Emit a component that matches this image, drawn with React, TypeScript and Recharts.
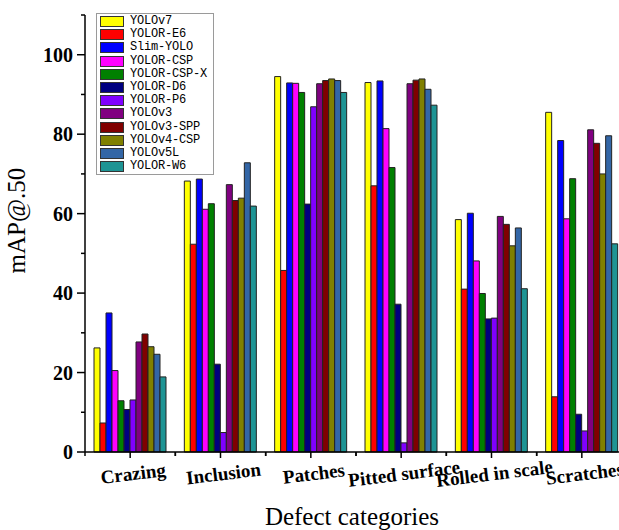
import React from 'react';
import { BarChart, Bar, XAxis, YAxis, Legend } from 'recharts';

const categories = ['Crazing', 'Inclusion', 'Patches', 'Pitted surface', 'Rolled in scale', 'Scratches'];

const modelNames = [
  'YOLOv7', 'YOLOR-E6', 'Slim-YOLO', 'YOLOR-CSP', 'YOLOR-CSP-X', 'YOLOR-D6',
  'YOLOR-P6', 'YOLOv3', 'YOLOv3-SPP', 'YOLOv4-CSP', 'YOLOv5L', 'YOLOR-W6',
];

const modelColors = [
  '#FFFF00', '#FF0000', '#0000FF', '#FF00FF', '#008000', '#000080',
  '#8000FF', '#800080', '#800000', '#808000', '#3366A6', '#1E9494',
];

// mAP@.50 per model, in category order
const yolov7 = [26.2, 68.2, 94.5, 93.0, 58.5, 85.5];
const yolorE6 = [7.3, 52.3, 45.7, 67.0, 41.0, 13.9];
const slimYolo = [35.0, 68.7, 92.9, 93.4, 60.1, 78.4];
const yolorCsp = [20.5, 61.1, 92.8, 81.4, 48.1, 58.7];
const yolorCspX = [12.9, 62.5, 90.5, 71.6, 39.9, 68.8];
const yolorD6 = [10.7, 22.1, 62.4, 37.2, 33.5, 9.5];
const yolorP6 = [13.1, 4.9, 86.9, 2.3, 33.7, 5.3];
const yolov3 = [27.7, 67.3, 92.7, 92.7, 59.3, 81.1];
const yolov3Spp = [29.7, 63.3, 93.5, 93.6, 57.3, 77.7];
const yolov4Csp = [26.5, 63.9, 93.9, 93.9, 51.9, 70.0];
const yolov5L = [24.6, 72.8, 93.5, 91.3, 56.4, 79.6];
const yolorW6 = [18.9, 61.9, 90.5, 87.3, 41.1, 52.4];

const seriesValues = [
  yolov7, yolorE6, slimYolo, yolorCsp, yolorCspX, yolorD6,
  yolorP6, yolov3, yolov3Spp, yolov4Csp, yolov5L, yolorW6,
];

const yTicks = [0, 10, 20, 30, 40, 50, 60, 70, 80, 90, 100, 110];

const chartData = categories.map((name, i) => {
  const row: Record<string, string | number> = { name };
  modelNames.forEach((m, j) => {
    row[m] = seriesValues[j][i];
  });
  return row;
});

const serif = '"Liberation Serif", "Times New Roman", serif';

const YTick = (props: any) => {
  const { x, y, payload } = props;
  const v = payload.value;
  const major = v % 20 === 0;
  return (
    <g>
      <line x1={x - (major ? 8 : 4)} x2={x} y1={y} y2={y} stroke="#000" strokeWidth={1.5} />
      {major && v <= 100 && (
        <text x={x - 12} y={y} dy={7} textAnchor="end" fontFamily={serif} fontWeight="bold" fontSize={20} fill="#000">
          {v}
        </text>
      )}
    </g>
  );
};

const XTick = (props: any) => {
  const { x, y, payload } = props;
  const half = payload.offset || 45;
  return (
    <g>
      <line x1={x} x2={x} y1={y} y2={y + 6} stroke="#000" strokeWidth={1.5} />
      <line x1={x - half} x2={x - half} y1={y} y2={y + 4} stroke="#000" strokeWidth={1.5} />
      <line x1={x + half} x2={x + half} y1={y} y2={y + 4} stroke="#000" strokeWidth={1.5} />
      <text
        x={x + 3}
        y={y + 28}
        textAnchor="middle"
        fontFamily={serif}
        fontWeight="bold"
        fontSize={19}
        fill="#000"
        transform={`rotate(-7, ${x + 3}, ${y + 22})`}
      >
        {payload.value}
      </text>
    </g>
  );
};

const LegendBox = () => (
  <div style={{ border: '1px solid #9a9a9a', background: '#fff', padding: '1px 0 1px 3px', width: 113 }}>
    {modelNames.map((m, i) => (
      <div key={m} style={{ display: 'flex', alignItems: 'center', height: 13.2, whiteSpace: 'nowrap' }}>
        <span style={{ display: 'inline-block', flex: 'none', width: 22, height: 9, background: modelColors[i], border: '1px solid #333', marginRight: 6 }} />
        <span style={{ fontFamily: '"Liberation Mono", monospace', fontSize: 12, lineHeight: '13px', color: '#000', letterSpacing: -0.2 }}>{m}</span>
      </div>
    ))}
  </div>
);

const App: React.FC = () => {
  return (
    <div style={{ position: 'absolute', left: 0, top: 0, width: 619, height: 530, overflow: 'hidden', background: '#fff' }}>
      <BarChart
        width={640}
        height={530}
        data={chartData}
        margin={{ top: 15, right: 13, left: 0, bottom: 0 }}
        barCategoryGap={9}
        barGap={0}
      >
        <XAxis
          dataKey="name"
          height={78}
          axisLine={{ stroke: '#000', strokeWidth: 1.5 }}
          tickLine={false}
          tickSize={0}
          tickMargin={0}
          interval={0}
          tick={<XTick />}
          label={{ value: 'Defect categories', position: 'insideBottom', offset: 5, dx: -4, fontFamily: serif, fontSize: 25, fill: '#000' }}
        />
        <YAxis
          width={85}
          domain={[0, 110]}
          ticks={yTicks}
          axisLine={{ stroke: '#000', strokeWidth: 1.5 }}
          tickLine={false}
          tickSize={0}
          tickMargin={0}
          tick={<YTick />}
          label={{ value: 'mAP@.50', angle: -90, position: 'insideLeft', offset: 16, dy: 40, fontFamily: serif, fontSize: 25, fill: '#000' }}
        />
        <Legend
          layout="horizontal"
          verticalAlign="middle"
          align="center"
          wrapperStyle={{ top: 13, left: 96, width: 'auto' }}
          content={<LegendBox />}
        />
        {modelNames.map((m, i) => (
          <Bar key={m} dataKey={m} fill={modelColors[i]} stroke="#222" strokeWidth={1} isAnimationActive={false} />
        ))}
      </BarChart>
    </div>
  );
};

export default App;
